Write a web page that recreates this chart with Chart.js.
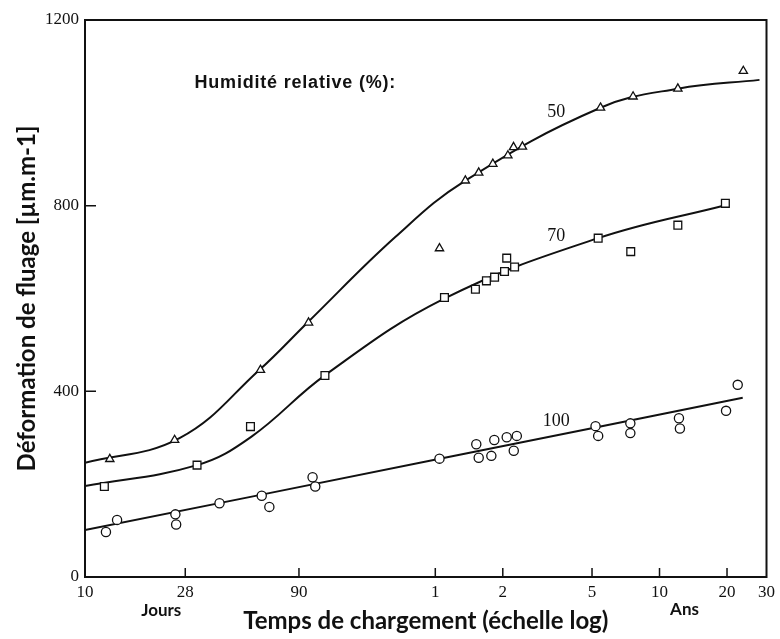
<!DOCTYPE html>
<html>
<head>
<meta charset="utf-8">
<script src="https://cdn.jsdelivr.net/npm/chart.js@4.4.1/dist/chart.umd.min.js"></script>
<style>
  html, body { margin: 0; padding: 0; background: #fff; }
  canvas { display: block; }
</style>
</head>
<body>
<canvas id="myChart" width="780" height="639"></canvas>
<script>
// time axis in days (log scale), labels switch to years after 90 days
var xTicks = [10, 28, 90, 365, 730, 1825, 3650, 7300, 10950];
var xTickLabels = ['10', '28', '90', '1', '2', '5', '10', '20', '30'];
var yTicks = [0, 400, 800, 1200];

// measured points, humidity 50 / 70 / 100 %
var hr50X = [12.9, 25.1, 60.6, 99.3, 381, 497, 570, 659, 769, 815, 893, 1991, 2782, 4406, 8630];
var hr50Y = [254, 295, 446, 548, 708, 854, 871, 890, 908, 926, 927, 1011, 1035, 1052, 1090];
var hr70X = [12.2, 31.6, 54.7, 117.5, 401, 551, 617, 671, 743, 760, 824, 1944, 2716, 4406, 7178];
var hr70Y = [195, 241, 324, 434, 602, 620, 638, 646, 658, 687, 668, 730, 701, 758, 805];
var hr100X = [12.4, 13.9, 25.3, 25.5, 39.8, 61.4, 66.4, 103.5, 106.4, 381, 556, 570, 649, 669, 760, 843, 817, 1892, 1944, 2705, 2705, 4456, 4500, 7228, 8147];
var hr100Y = [97, 123, 135, 113, 159, 175, 151, 215, 195, 255, 286, 257, 261, 295, 301, 304, 272, 325, 304, 331, 310, 342, 320, 358, 414];

// fitted curves
var fit50X = [10, 26.4, 59.9, 98.6, 242.7, 497, 1991, 4406, 10190];
var fit50Y = [246, 299, 446, 549, 733, 854, 1011, 1052, 1071];
var fit70X = [10, 31.6, 55.1, 117.8, 398, 1944, 7178];
var fit70Y = [196, 241, 302, 435, 599, 730, 801];
var fit100X = [10, 377, 8578];
var fit100Y = [101, 254, 386];

var curveNames = ['50', '70', '100'];

function pts(xs, ys) {
  return xs.map(function(v, i) { return { x: v, y: ys[i] }; });
}

var serif = "'Liberation Serif', 'DejaVu Serif', serif";
var sans = "Lato, 'Open Sans', sans-serif";

// labels placed in data coordinates
var curveLabelPos = [{ x: 1265, y: 1002 }, { x: 1265, y: 735 }, { x: 1265, y: 336 }];
var legendPos = { x: 86.7, y: 1064 };

var framePlugin = {
  id: 'frame',
  afterDatasetsDraw: function(chart) {
    var ctx = chart.ctx, a = chart.chartArea;
    var x = chart.scales.x, y = chart.scales.y;
    ctx.save();
    ctx.strokeStyle = '#111';
    ctx.lineWidth = 2;
    ctx.strokeRect(a.left, a.top, a.right - a.left, a.bottom - a.top);

    // inward tick marks
    ctx.lineWidth = 1.5;
    ctx.beginPath();
    xTicks.slice(1, -1).forEach(function(v) {
      var px = x.getPixelForValue(v);
      ctx.moveTo(px, a.bottom);
      ctx.lineTo(px, a.bottom - 9);
    });
    yTicks.slice(1, -1).forEach(function(v) {
      var py = y.getPixelForValue(v);
      ctx.moveTo(a.left, py);
      ctx.lineTo(a.left + 11, py);
    });
    ctx.stroke();

    ctx.fillStyle = '#111';
    ctx.textAlign = 'center';
    ctx.textBaseline = 'middle';
    ctx.font = '18px ' + serif;
    curveNames.forEach(function(n, i) {
      ctx.fillText(n, x.getPixelForValue(curveLabelPos[i].x), y.getPixelForValue(curveLabelPos[i].y));
    });

    ctx.font = "bold 18px 'Liberation Sans', Arial, sans-serif";
    ctx.letterSpacing = '0.8px';
    ctx.fillText('Humidité relative (%):', x.getPixelForValue(legendPos.x), y.getPixelForValue(legendPos.y));
    ctx.letterSpacing = '0px';

    ctx.font = 'bold 17px ' + sans;
    ctx.fillText('Jours', x.getPixelForValue(28) - 24, a.bottom + 34);
    ctx.fillText('Ans', x.getPixelForValue(3650) + 25, a.bottom + 33);
    ctx.restore();
  }
};

var markerStyle = {
  showLine: false,
  backgroundColor: '#fff',
  borderColor: '#111',
  pointBorderWidth: 1.3
};

function fitLine(xs, ys) {
  return {
    data: pts(xs, ys),
    showLine: true,
    borderColor: '#111',
    borderWidth: 2,
    pointRadius: 0,
    tension: 0.4,
    order: 2
  };
}

var ctx = document.getElementById('myChart').getContext('2d');
var myChart = new Chart(ctx, {
  type: 'scatter',
  data: {
    datasets: [
      Object.assign({ label: 'HR 50', data: pts(hr50X, hr50Y), pointStyle: 'triangle', pointRadius: 4.8, order: 1 }, markerStyle),
      Object.assign({ label: 'HR 70', data: pts(hr70X, hr70Y), pointStyle: 'rect', pointRadius: 5.5, order: 1 }, markerStyle),
      Object.assign({ label: 'HR 100', data: pts(hr100X, hr100Y), pointStyle: 'circle', pointRadius: 4.6, order: 1 }, markerStyle),
      fitLine(fit50X, fit50Y),
      fitLine(fit70X, fit70Y),
      fitLine(fit100X, fit100Y)
    ]
  },
  options: {
    responsive: false,
    animation: false,
    devicePixelRatio: 1,
    layout: { padding: { top: 20, right: 11, left: 0, bottom: 0 } },
    plugins: {
      legend: { display: false },
      tooltip: { enabled: false }
    },
    scales: {
      x: {
        type: 'logarithmic',
        min: 10,
        max: 10950,
        grid: { display: false, drawTicks: false },
        border: { display: true, color: '#111', width: 2 },
        afterBuildTicks: function(scale) {
          scale.ticks = xTicks.map(function(v) { return { value: v }; });
        },
        afterFit: function(scale) { scale.height = 62; },
        ticks: {
          autoSkip: false,
          maxRotation: 0,
          padding: 5,
          color: '#111',
          font: { family: serif, size: 17 },
          callback: function(value, index) { return xTickLabels[index]; }
        },
        title: {
          display: true,
          text: 'Temps de chargement (échelle log)',
          color: '#111',
          font: { family: sans, size: 24, weight: 'bold' },
          padding: { top: 0, bottom: 3 }
        }
      },
      y: {
        min: 0,
        max: 1200,
        grid: { display: false, drawTicks: false },
        border: { display: true, color: '#111', width: 2 },
        afterBuildTicks: function(scale) {
          scale.ticks = yTicks.map(function(v) { return { value: v }; });
        },
        afterFit: function(scale) { scale.width = 85; },
        ticks: {
          padding: 6,
          color: '#111',
          font: { family: serif, size: 17 },
          callback: function(value) { return String(value); }
        },
        title: {
          display: true,
          text: 'Déformation de fluage [µm.m-1]',
          color: '#111',
          font: { family: sans, size: 24, weight: 'bold' },
          padding: { top: 13, bottom: 0 }
        }
      }
    }
  },
  plugins: [framePlugin]
});
</script>
</body>
</html>
